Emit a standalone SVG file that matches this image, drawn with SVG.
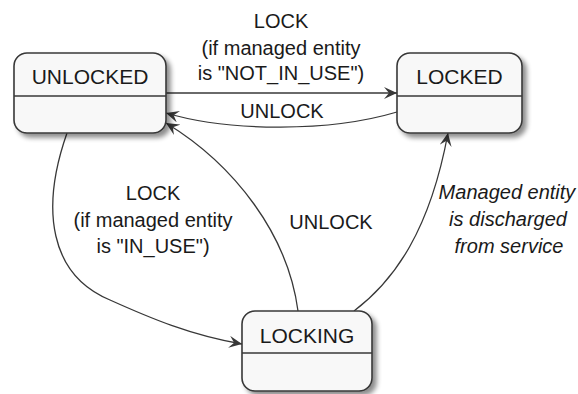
<svg xmlns="http://www.w3.org/2000/svg" width="578" height="394" viewBox="0 0 578 394">
<style>
.box{fill:#F8F8F8;stroke:#383838;stroke-width:1.6}
.div{stroke:#383838;stroke-width:1.6}
.name{font-family:"Liberation Sans",Arial,sans-serif;font-size:21px;fill:#1a1a1a;text-anchor:middle}
.lbl{font-family:"Liberation Sans",Arial,sans-serif;font-size:20px;fill:#1a1a1a;text-anchor:middle}
.it{font-style:italic}
.edge{fill:none;stroke:#383838;stroke-width:1.3}
</style>
<defs>
<filter id="sh" x="-20%" y="-20%" width="150%" height="150%">
<feGaussianBlur in="SourceAlpha" stdDeviation="2.5"/>
<feOffset dx="4" dy="4" result="b"/>
<feComponentTransfer><feFuncA type="linear" slope="0.45"/></feComponentTransfer>
<feMerge><feMergeNode/><feMergeNode in="SourceGraphic"/></feMerge>
</filter>
<marker id="ah" viewBox="0 0 14 12" refX="13" refY="6" markerWidth="14" markerHeight="12" markerUnits="userSpaceOnUse" orient="auto">
<path d="M0,0 L13,6 L0,12 L5,6 Z" fill="#383838"/>
</marker>
</defs>
<g id="edges">
<path class="edge" d="M166,93 L397,93" marker-end="url(#ah)"/>
<path class="edge" d="M397,112 C330,132 230,132 166,113" marker-end="url(#ah)"/>
<path class="edge" d="M298,311 C288,235 235,165 166,123" marker-end="url(#ah)"/>
<path class="edge" d="M67,133 C40,210 50,275 110,300 C150,318 190,335 242,344" marker-end="url(#ah)"/>
<path class="edge" d="M354,311 C395,280 430,230 448,133" marker-end="url(#ah)"/>
<text class="lbl" x="281" y="28">LOCK</text>
<text class="lbl" x="281" y="55">(if managed entity</text>
<text class="lbl" x="281" y="80">is "NOT_IN_USE")</text>
<text class="lbl" x="282" y="118">UNLOCK</text>
<text class="lbl" x="153" y="200">LOCK</text>
<text class="lbl" x="153" y="227">(if managed entity</text>
<text class="lbl" x="153" y="253">is "IN_USE")</text>
<text class="lbl" x="331" y="229">UNLOCK</text>
<text class="lbl it" x="507" y="199">Managed entity</text>
<text class="lbl it" x="508" y="226">is discharged</text>
<text class="lbl it" x="509" y="253">from service</text>
</g>
<g id="UNLOCKED">
<rect class="box" x="14" y="53" width="152" height="80" rx="13" filter="url(#sh)"/>
<line class="div" x1="14" y1="96" x2="166" y2="96"/>
<text class="name" x="90" y="84">UNLOCKED</text>
</g>
<g id="LOCKED">
<rect class="box" x="397" y="53" width="125" height="80" rx="13" filter="url(#sh)"/>
<line class="div" x1="397" y1="96" x2="522" y2="96"/>
<text class="name" x="459.5" y="84">LOCKED</text>
</g>
<g id="LOCKING">
<rect class="box" x="242" y="311" width="130" height="80" rx="13" filter="url(#sh)"/>
<line class="div" x1="242" y1="353" x2="372" y2="353"/>
<text class="name" x="307" y="343">LOCKING</text>
</g>
</svg>
